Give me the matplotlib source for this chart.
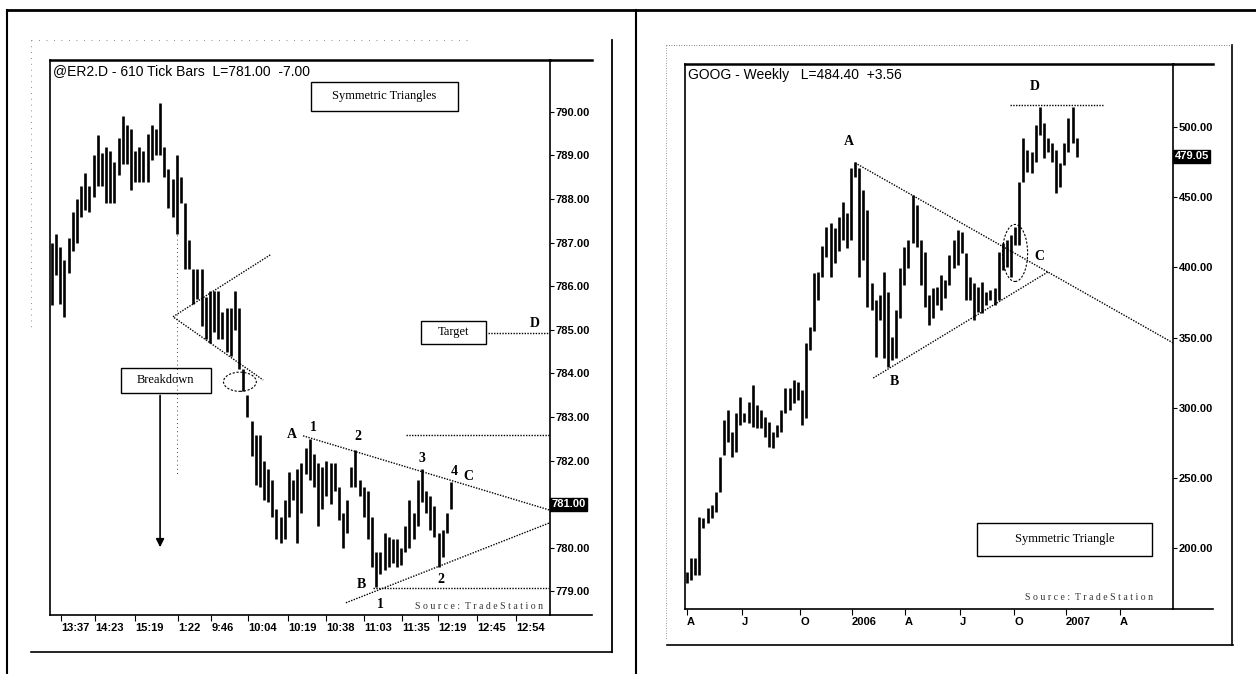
import numpy as np
import matplotlib
matplotlib.use('Agg')
import matplotlib.pyplot as plt
from matplotlib.lines import Line2D
from matplotlib.patches import Ellipse, Rectangle

W, H = 1256, 674
SANS = ['Liberation Sans Narrow', 'Liberation Sans', 'DejaVu Sans']
SERIF = ['Liberation Serif', 'DejaVu Serif']
plt.rcParams['font.family'] = SANS

# ---- left panel: @ER2.D 610 tick bars (high / low per bar) ----
er2_high = [787.0, 787.2, 786.9, 786.6, 787.1, 787.7, 788.0, 788.3, 788.6, 788.3,
            789.0, 789.47, 789.06, 789.2, 789.1, 788.85, 789.4, 789.9, 789.7, 789.6,
            789.1, 789.2, 789.1, 789.5, 789.7, 789.6, 790.2, 789.2, 788.7, 788.45,
            789.0, 788.5, 787.9, 787.06, 786.4, 786.4, 786.4, 785.75,
            785.9, 785.9, 785.9, 785.4, 785.5, 785.5, 785.9, 785.5, 784.1, 783.5,
            782.9, 782.6, 782.6, 782.0, 781.8, 781.55, 780.9, 780.7, 781.1, 781.75,
            781.55, 781.8, 781.95, 782.3, 782.5, 782.15, 781.95, 781.85, 782.0, 781.95,
            781.95, 781.4, 780.8, 781.1, 781.85, 782.25, 781.55, 781.4, 781.3, 780.7,
            779.9, 779.9, 780.35, 780.25, 780.2, 780.2, 780.0, 780.5, 781.1, 780.8,
            781.55, 781.8, 781.3, 781.2, 780.95, 780.35, 780.4, 780.8, 781.5]
er2_low = [785.57, 786.26, 785.6, 785.3, 786.3, 786.8, 787.0, 787.6, 787.75, 787.7,
           788.05, 788.3, 788.3, 787.9, 787.9, 787.9, 788.55, 788.8, 788.8, 788.2,
           788.4, 788.4, 788.4, 788.4, 788.9, 789.0, 789.0, 788.5, 787.8, 787.6,
           787.2, 787.9, 786.4, 786.4, 785.6, 785.7, 785.1, 784.8,
           784.7, 784.95, 784.8, 784.8, 784.5, 784.4, 785.0, 784.1, 783.6, 783.0,
           782.1, 781.45, 781.4, 781.1, 781.05, 780.7, 780.2, 780.1, 780.2, 780.7,
           781.1, 780.1, 780.8, 781.7, 781.55, 781.4, 780.5, 780.9, 781.2, 781.0,
           781.3, 780.65, 780.0, 780.35, 781.4, 781.4, 781.2, 780.7, 780.2, 779.55,
           779.1, 779.4, 779.5, 779.55, 779.65, 779.55, 779.6, 779.9, 780.0, 780.2,
           780.5, 781.05, 780.8, 780.4, 780.25, 779.55, 779.8, 780.35, 780.9]
er2_time_labels = ['13:37', '14:23', '15:19', '1:22', '9:46', '10:04', '10:19',
                   '10:38', '11:03', '11:35', '12:19', '12:45', '12:54']
er2_time_bars = [2.2, 10.3, 20.0, 30.3, 38.3, 47.2, 56.8, 65.9, 75.1, 84.2, 92.9, 102.3, 111.6]
er2_prices = [779, 780, 781, 782, 783, 784, 785, 786, 787, 788, 789, 790]
er2_last = 781.00

# ---- right panel: GOOG weekly (high / low per week, from April 2005) ----
goog_high = [183.3, 193.2, 193, 222.4, 221.7, 228.8, 231, 240, 265, 291.5,
             298.6, 283, 296.4, 308, 296.4, 304, 316, 302, 298.6, 293.6,
             290, 283, 288, 298.6, 314.2, 314, 320, 318.5, 312.8, 346,
             357.6, 396, 397, 415, 429, 431.7, 428, 436, 446.6, 438.8,
             470.8, 475, 470.8, 455, 441, 389, 377, 380.4, 396.8, 382.6,
             350.5, 370, 399.6, 414.6, 419.6, 451.6, 444.5, 419.6, 411, 380.4,
             385.4, 386, 394.7, 391, 409, 419.6, 426.7, 425.3, 410.3, 393.2,
             389, 386, 389.7, 382.6, 384, 385.4, 411, 417.4, 419.6, 423,
             428.8, 461, 492, 483.6, 482, 501.4, 514, 502.8, 492, 488.6,
             483.6, 474.4, 488.6, 506.4, 514, 492]
goog_low = [175.4, 177.6, 181, 181, 214.6, 218, 222, 226, 240, 266.5,
            276, 265, 268.7, 288, 290, 289, 286.5, 285.8, 285.8, 279.4,
            272.3, 271.5, 279.4, 283, 296.4, 298.6, 303.6, 305.7, 288, 293,
            341, 355, 377, 393, 407.5, 393, 403, 412, 419.6, 413.9,
            419.6, 464.4, 393.2, 405, 372, 370, 336.3, 362.6, 335.6, 329.2,
            334, 335.6, 364, 387.5, 399.6, 417.4, 414.6, 387.5, 372, 359,
            364, 373.3, 369.8, 378.3, 387.5, 399.6, 401.8, 410.3, 376.9, 376.9,
            362.6, 368.3, 367.6, 373.3, 376.9, 373.3, 377, 398.2, 400.4, 393.2,
            416, 416, 461, 468, 467, 475, 494.3, 478, 482, 475,
            453, 457.3, 473, 482, 488.6, 478.6]
goog_date_labels = ['A', 'J', 'O', '2006', 'A', 'J', 'O', '2007', 'A']
goog_date_weeks = [0, 13.4, 27.6, 40.2, 53.2, 66.6, 79.8, 92.4, 105.6]
goog_prices = [200, 250, 300, 350, 400, 450, 500]
goog_last = 479.05

fig = plt.figure(figsize=(W / 100, H / 100), dpi=100)


def rect(x0, y0, x1, y1):
    return [x0 / W, 1 - y1 / H, (x1 - x0) / W, (y1 - y0) / H]


def fline(xs, ys, **kw):
    kw.setdefault('color', 'black')
    fig.add_artist(Line2D([x / W for x in xs], [1 - y / H for y in ys],
                          transform=fig.transFigure, **kw))


def setup_axes(ax, prices, last, hide_last):
    for s in ax.spines.values():
        s.set_linewidth(1.2)
    ax.spines['top'].set_linewidth(1.8)
    ax.yaxis.tick_right()
    ax.set_yticks(prices)
    ax.set_yticklabels(['' if hide_last and v == round(last) else f'{v:.2f}' for v in prices])
    ax.tick_params(axis='y', direction='out', length=3, width=0.8, pad=1, labelsize=8)
    ax.tick_params(axis='x', direction='out', length=4, width=0.8, pad=2, labelsize=8)
    for lbl in ax.get_yticklabels() + ax.get_xticklabels():
        lbl.set_fontweight('bold')
    ax.text(1.003, last, f'{last:.2f}', transform=ax.get_yaxis_transform(), ha='left', va='center',
            color='white', fontsize=8, fontweight='bold',
            bbox=dict(boxstyle='square,pad=0.15', fc='black', ec='black'))


dots = dict(color='black', lw=1.0, ls=(0, (1, 1)))
lab = dict(family=SERIF, fontweight='bold', fontsize=10, ha='center', va='center')
src = 'S o u r c e :  T r a d e S t a t i o n'

# ---------------- page frame ----------------
fline([7, 1256], [10, 10], lw=2)
fline([7, 7], [10, 674], lw=1.5)
fline([636, 636], [10, 674], lw=1.5)
fline([31, 612], [652, 652], lw=1.2)
fline([612, 612], [40, 652], lw=1.3)
fline([31, 470], [40, 40], lw=0.6, ls=(0, (1, 8)), color='#666666')
fline([31, 31], [40, 330], lw=0.6, ls=(0, (1, 6)), color='#666666')
fline([667, 1233], [645, 645], lw=1.2)
fline([1232, 1232], [45, 645], lw=1.2)
fline([666, 1232], [45, 45], lw=0.6, ls=(0, (1, 2)), color='#555555')
fline([666, 666], [45, 640], lw=0.6, ls=(0, (1, 2)), color='#777777')

# ---------------- left: @ER2.D ----------------
ax1 = fig.add_axes(rect(50, 60, 550, 615))
ax1.set_xlim(-0.48, 119.8)
ax1.set_ylim(778.46, 791.19)
ax1.vlines(np.arange(len(er2_high)), er2_low, er2_high, color='black', lw=1.9)
ax1.set_xticks(er2_time_bars)
ax1.set_xticklabels(er2_time_labels, ha='left')
setup_axes(ax1, er2_prices, er2_last, True)
fline([550, 592], [60, 60], lw=1.8)
fline([550, 592], [615, 615], lw=1.2)
fig.text(53 / W, 1 - 71 / H, '@ER2.D - 610 Tick Bars  L=781.00  -7.00', ha='left', va='center',
         fontsize=10)

# triangle and target lines
ax1.plot([60.4, 119.6], [782.57, 780.87], **dots)
ax1.plot([70.7, 119.6], [778.74, 780.57], **dots)
ax1.plot([77.2, 119.6], [779.08, 779.08], **dots)
ax1.plot([85.2, 119.6], [782.59, 782.59], **dots)
ax1.plot([104.9, 119.6], [784.93, 784.93], **dots)
ax1.plot([52.5, 29.1, 50.8], [786.72, 785.30, 783.85], **dots)
ax1.plot([30.1, 30.1], [787.18, 781.67], color='black', lw=0.6, ls=(0, (1, 4)))
ax1.add_patch(Ellipse((45.2, 783.81), 7.9, 0.44, fill=False, ec='black', lw=0.8, ls=(0, (2, 1.5))))

for txt, k, p in [('A', 57.7, 782.59), ('1', 63.0, 782.77), ('2', 73.6, 782.55), ('3', 89.0, 782.06),
                  ('4', 96.7, 781.74), ('C', 100.1, 781.63), ('B', 74.4, 779.15), ('1', 78.9, 778.69),
                  ('2', 93.6, 779.27), ('D', 116.2, 785.14)]:
    ax1.text(k, p, txt, **lab)

for txt, k0, k1, p0, p1 in [('Symmetric Triangles', 62.3, 97.7, 790.02, 790.69),
                            ('Breakdown', 16.6, 38.2, 783.56, 784.13),
                            ('Target', 88.8, 104.4, 784.68, 785.21)]:
    ax1.add_patch(Rectangle((k0, p0), k1 - k0, p1 - p0, fill=False, ec='black', lw=1.0))
    ax1.text((k0 + k1) / 2, (p0 + p1) / 2, txt, family=SERIF, fontsize=9, ha='center', va='center')
ax1.annotate('', xy=(26.0, 779.95), xytext=(26.0, 783.56),
             arrowprops=dict(arrowstyle='-|>', color='black', lw=1.2, mutation_scale=12))
ax1.text(118.1, 778.66, src, family=SERIF, fontsize=7, ha='right', va='center', color='#333333')

# ---------------- right: GOOG weekly ----------------
ax2 = fig.add_axes(rect(685, 64, 1173, 609))
ax2.set_xlim(-0.49, 118.5)
ax2.set_ylim(156.9, 544.8)
ax2.vlines(np.arange(len(goog_high)), goog_low, goog_high, color='black', lw=1.9)
ax2.set_xticks(goog_date_weeks)
ax2.set_xticklabels(goog_date_labels, ha='left')
setup_axes(ax2, goog_prices, goog_last, False)
fline([1173, 1213], [64, 64], lw=1.8)
fline([1173, 1213], [609, 609], lw=1.2)
fig.text(688 / W, 1 - 75 / H, 'GOOG - Weekly   L=484.40  +3.56', ha='left', va='center', fontsize=10)

ax2.plot([41.0, 118.5], [474.4, 346.3], **dots)
ax2.plot([45.4, 88.0], [321.3, 396.8], **dots)
ax2.plot([78.8, 101.5], [515.7, 515.7], **dots)
ax2.add_patch(Ellipse((80.0, 410.3), 6.1, 40.6, fill=False, ec='black', lw=0.8, ls=(0, (2, 1.5))))
for txt, k, p in [('A', 39.5, 489.3), ('D', 84.9, 528.5), ('C', 85.9, 407.5), ('B', 50.5, 318.5)]:
    ax2.text(k, p, txt, **lab)
ax2.add_patch(Rectangle((70.7, 194.7), 42.7, 23.4, fill=False, ec='black', lw=1.0))
ax2.text(92.1, 206.4, 'Symmetric Triangle', family=SERIF, fontsize=9, ha='center', va='center')
ax2.text(113.7, 164.8, src, family=SERIF, fontsize=7, ha='right', va='center', color='#333333')

fig.savefig('out.png', dpi=100)
